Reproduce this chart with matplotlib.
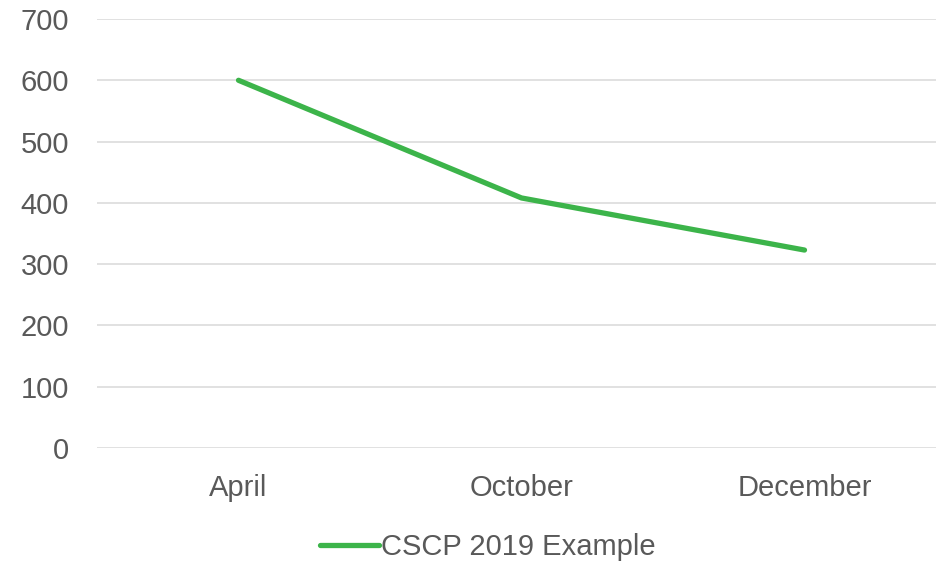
import matplotlib
matplotlib.use("Agg")
import matplotlib.pyplot as plt

categories = ["April", "October", "December"]
values = [600, 408, 323]
series_name = "CSCP 2019 Example"
yticks = [0, 100, 200, 300, 400, 500, 600, 700]

plt.rcParams['font.family'] = ['Liberation Sans', 'DejaVu Sans']

fig = plt.figure(figsize=(9.37, 5.62), dpi=100)
ax = fig.add_axes([97/937, 1 - 448/562, (946 - 97)/937, (448 - 19)/562])
x = list(range(len(categories)))
ax.plot(x, values, color='#3cb44a', lw=3.8, solid_capstyle='round', label=series_name)
ax.set_xlim(-0.5, len(categories) - 0.5)
ax.set_ylim(0, 700)
ax.set_yticks(yticks)
ax.set_xticks(x)
ax.set_xticklabels(categories)
ax.grid(axis='y', color='#d9d9d9', lw=1.1)
ax.set_axisbelow(True)
for s in ax.spines.values():
    s.set_visible(False)
ax.tick_params(axis='both', length=0, labelsize=21, labelcolor='#595959')
ax.tick_params(axis='y', pad=20)
ax.tick_params(axis='x', pad=19)
fig.legend(loc='center', bbox_to_anchor=(0.521, 0.027), frameon=False, fontsize=21,
           handlelength=2.0, handletextpad=0.1, labelcolor='#595959')
fig.savefig("out.png", dpi=100, facecolor='white')
